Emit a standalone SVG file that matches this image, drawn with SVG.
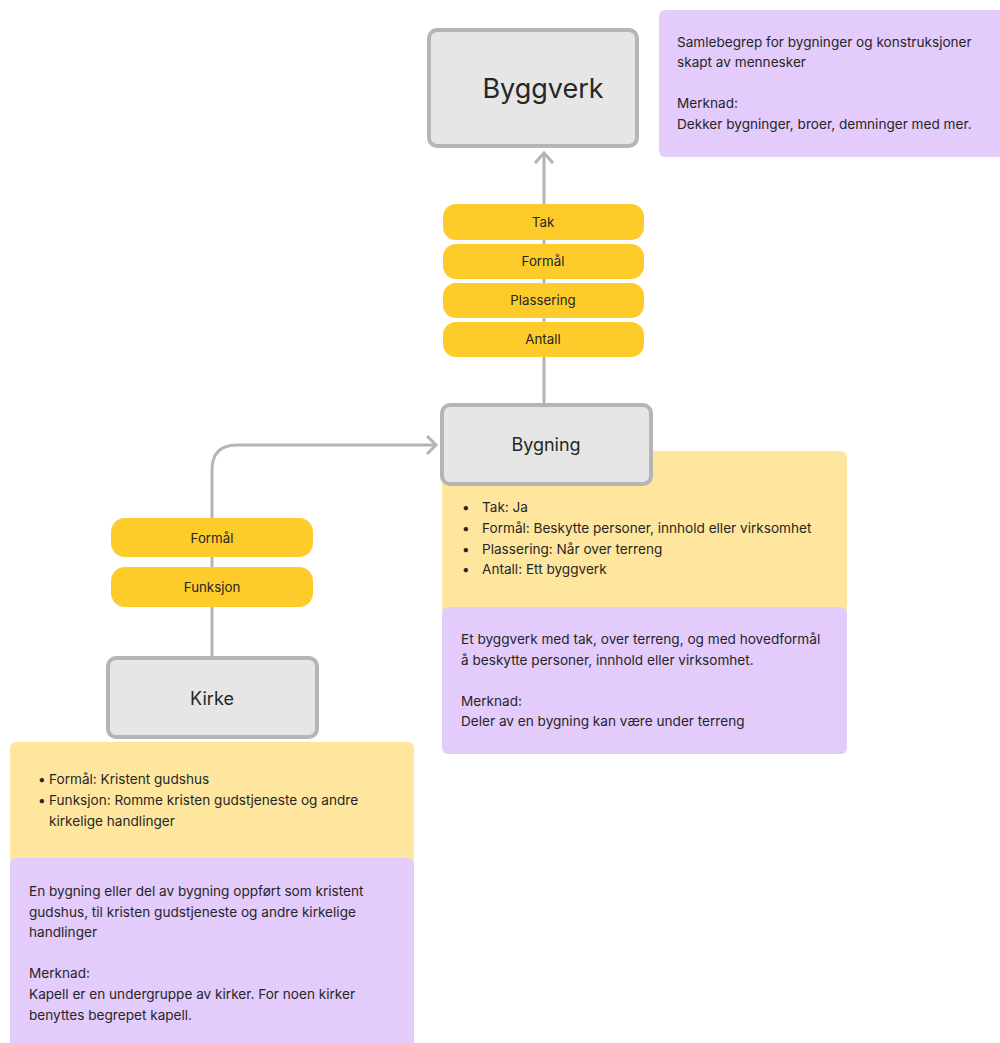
<svg xmlns="http://www.w3.org/2000/svg" width="1000" height="1043" viewBox="0 0 1000 1043">
<style>
text{font-family:Inter,"Noto Sans","Liberation Sans",sans-serif;fill:#262626}
.box{fill:#e6e6e6;stroke:#b5b5b5;stroke-width:4}
.pill{fill:#fdcc2b}
.pt{font-size:13.3px;text-anchor:middle}
.note{font-size:13.6px}
.title{text-anchor:middle}
.ly{fill:#fee69f}
.pu{fill:#e3cbfc}
.conn{fill:none;stroke:#b5b5b5;stroke-width:3}
</style>
<rect width="1000" height="1043" fill="#ffffff"/>
<g id="notes">
<g id="note-byggverk">
<rect class="pu" x="659" y="10" width="350" height="147" rx="6"/>
<text class="note" x="677" y="47">Samlebegrep for bygninger og konstruksjoner</text>
<text class="note" x="677" y="67">skapt av mennesker</text>
<text class="note" x="677" y="108">Merknad:</text>
<text class="note" x="677" y="129">Dekker bygninger, broer, demninger med mer.</text>
</g>
<g id="note-bygning-props">
<rect class="ly" x="442" y="451" width="405" height="165" rx="6"/>
<text class="note" x="462" y="512">•</text><text class="note" x="482" y="512">Tak: Ja</text>
<text class="note" x="462" y="533">•</text><text class="note" x="482" y="533">Formål: Beskytte personer, innhold eller virksomhet</text>
<text class="note" x="462" y="554">•</text><text class="note" x="482" y="554">Plassering: Når over terreng</text>
<text class="note" x="462" y="574">•</text><text class="note" x="482" y="574">Antall: Ett byggverk</text>
</g>
<g id="note-bygning-def">
<rect class="pu" x="442" y="607" width="405" height="147" rx="6"/>
<text class="note" x="461" y="644">Et byggverk med tak, over terreng, og med hovedformål</text>
<text class="note" x="461" y="665">å beskytte personer, innhold eller virksomhet.</text>
<text class="note" x="461" y="706">Merknad:</text>
<text class="note" x="461" y="726">Deler av en bygning kan være under terreng</text>
</g>
<g id="note-kirke-props">
<rect class="ly" x="10" y="742" width="404" height="122" rx="6"/>
<text class="note" x="38" y="784">•</text><text class="note" x="49" y="784">Formål: Kristent gudshus</text>
<text class="note" x="38" y="805">•</text><text class="note" x="49" y="805">Funksjon: Romme kristen gudstjeneste og andre</text>
<text class="note" x="49" y="826">kirkelige handlinger</text>
</g>
<g id="note-kirke-def">
<rect class="pu" x="10" y="858" width="404" height="200" rx="6"/>
<text class="note" x="29" y="896">En bygning eller del av bygning oppført som kristent</text>
<text class="note" x="29" y="917">gudshus, til kristen gudstjeneste og andre kirkelige</text>
<text class="note" x="29" y="937">handlinger</text>
<text class="note" x="29" y="978">Merknad:</text>
<text class="note" x="29" y="999">Kapell er en undergruppe av kirker. For noen kirker</text>
<text class="note" x="29" y="1020">benyttes begrepet kapell.</text>
</g>
</g>
<g id="connectors">
<path class="conn" d="M544 403 V153"/>
<path class="conn" d="M535 163 L544 153 L553 163"/>
<path class="conn" d="M212 656 V470 Q212 445 237 445 H436"/>
<path class="conn" d="M427 436 L436 445 L427 454"/>
</g>
<g id="labels">
<g id="lbl-tak"><rect class="pill" x="443" y="204" width="201" height="36" rx="13"/><text class="pt" x="543" y="227">Tak</text></g>
<g id="lbl-formal1"><rect class="pill" x="443" y="244" width="201" height="35" rx="13"/><text class="pt" x="543" y="266">Formål</text></g>
<g id="lbl-plassering"><rect class="pill" x="443" y="283" width="201" height="35" rx="13"/><text class="pt" x="543" y="305">Plassering</text></g>
<g id="lbl-antall"><rect class="pill" x="443" y="322" width="201" height="35" rx="13"/><text class="pt" x="543" y="344">Antall</text></g>
<g id="lbl-formal2"><rect class="pill" x="111" y="518" width="202" height="39" rx="14"/><text class="pt" x="212" y="543">Formål</text></g>
<g id="lbl-funksjon"><rect class="pill" x="111" y="567" width="202" height="40" rx="14"/><text class="pt" x="212" y="592">Funksjon</text></g>
</g>
<g id="node-byggverk">
<rect class="box" x="429" y="30" width="208" height="116" rx="8"/>
<text class="title" x="543" y="98" font-size="27">Byggverk</text>
</g>
<g id="node-bygning">
<rect class="box" x="442" y="405" width="209" height="79" rx="8"/>
<text class="title" x="546" y="451" font-size="18">Bygning</text>
</g>
<g id="node-kirke">
<rect class="box" x="108" y="658" width="209" height="79" rx="8"/>
<text class="title" x="212" y="705" font-size="18">Kirke</text>
</g>
</svg>
